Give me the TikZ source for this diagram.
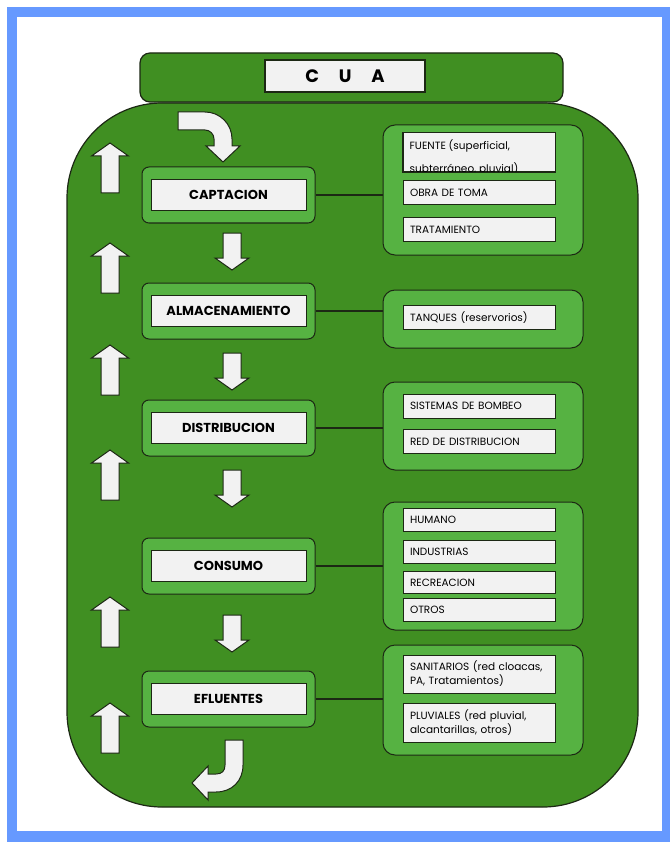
\documentclass[tikz,border=0pt]{standalone}
\usepackage{fontspec}
\setmainfont{Poppins}
\usepackage{tikz}
\definecolor{jargreen}{RGB}{64,143,34}
\definecolor{boxgreen}{RGB}{86,178,66}
\definecolor{framebl}{RGB}{102,153,255}
\definecolor{paper}{RGB}{242,242,242}
\definecolor{edge}{RGB}{28,40,20}

\newcommand{\uparr}[2]{%
  \draw[edge,line width=1pt,fill=paper] (#1,#2) -- ++(18.5,13) -- ++(-9.5,0) -- ++(0,37)
    -- ++(-18,0) -- ++(0,-37) -- ++(-9.5,0) -- cycle;}
\newcommand{\dnarr}[2]{%
  \draw[edge,line width=1pt,fill=paper] (#1,#2) -- ++(17,-12) -- ++(-8,0) -- ++(0,-25)
    -- ++(-18,0) -- ++(0,25) -- ++(-8,0) -- cycle;}

\begin{document}
\begin{tikzpicture}[x=1pt,y=-1pt]
  \useasboundingbox (0,0) rectangle (670,842);
  \fill[framebl] (7,7) rectangle (670,842);
  \fill[white] (17,17) rectangle (662,831);
  \draw[edge,line width=1.2pt,fill=jargreen,rounded corners=95pt] (67,103) rectangle (638,807);
  \draw[edge,line width=1.2pt,fill=jargreen,rounded corners=10pt] (140,53) rectangle (563,102);
  \node[draw=edge,line width=1.2pt,fill=paper,minimum width=160pt,minimum height=32pt,
        font=\bfseries\fontsize{18}{20}\selectfont] (cua) at (345,76) {C\hspace{1.1em}U\hspace{1.1em}A};

  \begin{scope}[every node/.style={draw=edge,line width=1pt,fill=boxgreen,rounded corners=7pt,
                minimum width=173pt,minimum height=56pt}]
  \node (s1) at (228.5,195) {};
  \node (s2) at (228.5,311) {};
  \node (s3) at (228.5,428) {};
  \node (s4) at (228.5,566) {};
  \node (s5) at (228.5,699) {};
  \end{scope}
  \begin{scope}[every node/.style={draw=edge,line width=1pt,fill=paper,minimum width=155pt,
                minimum height=31pt,font=\bfseries\fontsize{13}{15}\selectfont}]
  \node (s1t) at (s1) {CAPTACION};
  \node (s2t) at (s2) {ALMACENAMIENTO};
  \node (s3t) at (s3) {DISTRIBUCION};
  \node (s4t) at (s4) {CONSUMO};
  \node (s5t) at (s5) {EFLUENTES};
  \end{scope}

  \begin{scope}[every node/.style={draw=edge,line width=1pt,fill=boxgreen,rounded corners=12pt,
                minimum width=200pt}]
  \node[minimum height=130pt] (g1) at (483,190) {};
  \node[minimum height=58pt] (g2) at (483,319) {};
  \node[minimum height=88pt] (g3) at (483,426) {};
  \node[minimum height=128pt] (g4) at (483,566) {};
  \node[minimum height=110pt] (g5) at (483,700) {};
  \end{scope}
  \foreach \i in {1,...,5}
    \draw[edge,line width=1.2pt] (s\i.east) -- (s\i.east -| g\i.west);

  \begin{scope}[every node/.style={draw=edge,line width=1pt,fill=paper,text width=138pt,
                inner xsep=7pt,inner ysep=2pt,align=left,font=\fontsize{10.5}{14}\selectfont,
                minimum height=24pt}]
  \node[minimum height=39pt] (g1a) at (479,152.5) {};
  \node (g1b) at (479,193) {OBRA DE TOMA};
  \node (g1c) at (479,229.5) {TRATAMIENTO};
  \node (g2a) at (479,317.5) {TANQUES (reservorios)};
  \node (g3a) at (479,406) {SISTEMAS DE BOMBEO};
  \node (g3b) at (479,441.5) {RED DE DISTRIBUCION};
  \node[minimum height=23pt] (g4a) at (479,520) {HUMANO};
  \node[minimum height=23pt] (g4b) at (479,551.5) {INDUSTRIAS};
  \node[minimum height=22pt] (g4c) at (479,582.5) {RECREACION};
  \node[minimum height=23pt] (g4d) at (479,610) {OTROS};
  \node[minimum height=38pt] (g5a) at (479,674) {SANITARIOS (red cloacas,\\PA, Tratamientos)};
  \node[minimum height=39pt] (g5b) at (479,722.5) {PLUVIALES (red pluvial,\\alcantarillas, otros)};
  \end{scope}
  \begin{scope}[every node/.style={anchor=base west,inner sep=0pt,font=\fontsize{10.5}{14}\selectfont}]
  \clip (g1a.south west) rectangle (g1a.north east);
  \node (f1) at ([xshift=7pt]g1a.west |- 0,150) {FUENTE (superficial,};
  \node (f2) at ([xshift=7pt]g1a.west |- 0,173) {subterráneo, pluvial)};
  \end{scope}
  \draw[edge,line width=1pt] (g1a.south west) rectangle (g1a.north east);

  \foreach \y in {143,243,345,450,597,703} \uparr{110}{\y};
  \foreach \y in {270,390,507,652} \dnarr{232}{\y};
  \draw[edge,line width=1pt,fill=paper] (178,112) -- (205,112) .. controls (220,112) and (232,124) .. (232,139)
    -- (232,146) -- (240,146) -- (223,162) -- (206,146) -- (214,146) -- (214,139)
    .. controls (214,134) and (210,130) .. (205,130) -- (178,130) -- cycle;
  \draw[edge,line width=1pt,fill=paper] (225,740) -- (243,740) -- (243,765) .. controls (243,781) and (232,792) .. (216,792)
    -- (208,792) -- (208,800) -- (192,783) -- (208,766) -- (208,774) -- (216,774)
    .. controls (222,774) and (225,771) .. (225,765) -- cycle;
\end{tikzpicture}
\end{document}
